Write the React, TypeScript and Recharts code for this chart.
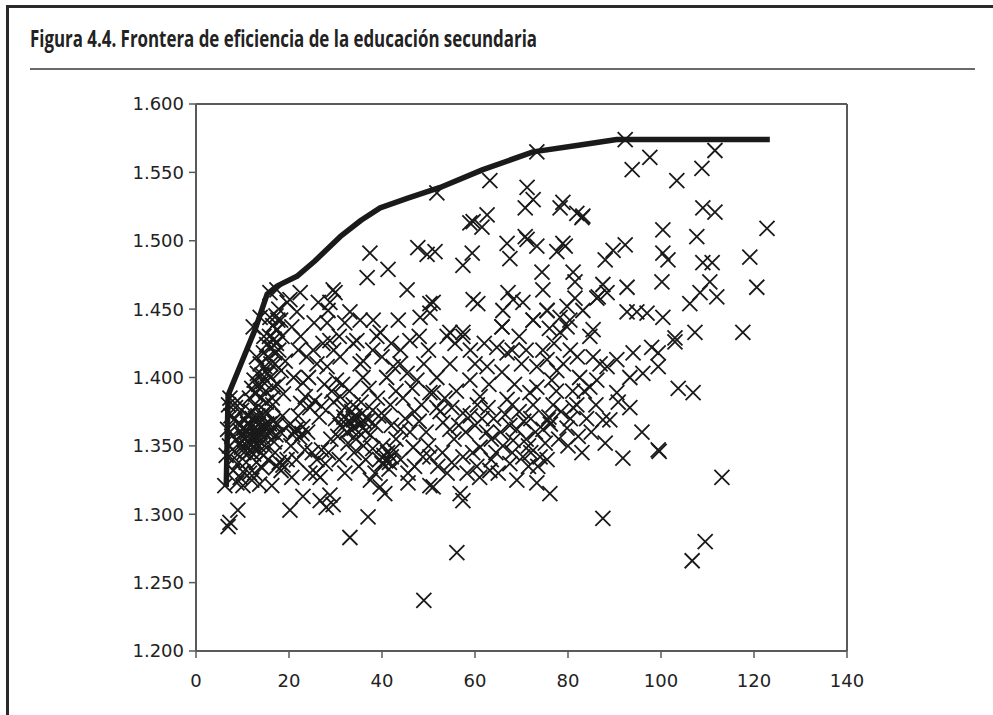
import React from 'react'
import {
  ScatterChart,
  Scatter,
  XAxis,
  YAxis,
  ReferenceLine
} from 'recharts'

// Tick values
const X_TICKS = [0, 20, 40, 60, 80, 100, 120, 140]
const Y_TICKS = [1.2, 1.25, 1.3, 1.35, 1.4, 1.45, 1.5, 1.55, 1.6]

// Efficiency frontier (gasto, resultado)
const frontier: Array<[number, number]> = [
  [6.5, 1.32], [6.9, 1.387], [12.7, 1.435], [15.3, 1.461], [17.5, 1.467],
  [21.7, 1.474], [25.5, 1.485], [31, 1.503], [35.5, 1.515], [39.6, 1.524],
  [45.4, 1.531], [52.5, 1.539], [61.7, 1.552], [72.5, 1.565], [82.6, 1.57],
  [90.5, 1.574], [123.4, 1.574]
]

// Observations, grouped by zone of the chart
const leftEdge: Array<[number, number]> = [
  [6.2, 1.321], [6.5, 1.343], [6.8, 1.362], [7.0, 1.38], [7.3, 1.385], [7.5, 1.372],
  [7.7, 1.357], [8, 1.332], [8.2, 1.346], [8.8, 1.323], [9.0, 1.366], [9.3, 1.352],
  [9.5, 1.327], [9.8, 1.376], [10.1, 1.321], [10.1, 1.331], [6.9, 1.291], [7.3, 1.294],
  [9.0, 1.303], [8.5, 1.378], [8.9, 1.383], [9.5, 1.361], [10.3, 1.345], [10.6, 1.369],
  [7.2, 1.35], [8.4, 1.37], [8.7, 1.355], [7.9, 1.34], [9.2, 1.338], [9.9, 1.358]
]

const leftCluster: Array<[number, number]> = [
  [10.5, 1.355], [11, 1.36], [11.3, 1.352], [11.6, 1.365], [12, 1.357], [12.2, 1.349],
  [12.5, 1.362], [12.8, 1.37], [13.1, 1.355], [13.4, 1.366], [13.8, 1.36], [14.2, 1.372],
  [14.6, 1.365], [15, 1.358], [15.4, 1.374], [15.8, 1.366], [16.2, 1.36], [11.8, 1.375],
  [12.4, 1.344], [13.6, 1.35], [10.8, 1.338], [11.5, 1.33], [12, 1.325], [13, 1.338],
  [14, 1.345], [14.8, 1.35], [9.8, 1.349], [10.4, 1.363], [11.2, 1.372], [13, 1.378],
  [16.8, 1.353], [17.5, 1.366], [18.2, 1.36], [17, 1.345], [18.6, 1.372], [16.5, 1.38],
  [15.5, 1.34], [14.2, 1.334], [12.6, 1.33], [13.7, 1.322],
  [10.9, 1.35], [11.4, 1.358], [11.9, 1.364], [12.3, 1.353], [12.7, 1.358], [13.2, 1.362],
  [13.5, 1.357], [14.1, 1.363], [14.4, 1.356], [15.2, 1.366], [11.1, 1.366], [12.1, 1.37],
  [13.3, 1.372], [14.9, 1.375], [15.6, 1.36], [16.6, 1.368], [17.2, 1.358], [11.7, 1.346],
  [12.9, 1.348], [14.5, 1.343]
]

const leftDiagonal: Array<[number, number]> = [
  [11.5, 1.385], [12, 1.392], [12.5, 1.398], [12.8, 1.388], [13.2, 1.403], [13.5, 1.395],
  [13.8, 1.41], [14.2, 1.402], [14.5, 1.418], [14.8, 1.408], [15.2, 1.424], [15.5, 1.415],
  [15.8, 1.43], [16.2, 1.422], [16.5, 1.438], [16.8, 1.428], [17.2, 1.445], [17.5, 1.435],
  [17.8, 1.45], [18.2, 1.442], [15, 1.39], [16, 1.4], [17, 1.41], [17.8, 1.42],
  [18.5, 1.43], [16.4, 1.385], [17.6, 1.395], [18.3, 1.405], [14, 1.385], [13, 1.415],
  [14.6, 1.43], [12.3, 1.437], [13.8, 1.444], [15.9, 1.444], [17.6, 1.442], [17.4, 1.435],
  [15.9, 1.462], [17.4, 1.464], [19.2, 1.412], [18.8, 1.388],
  [13.6, 1.392], [14.4, 1.397], [15.4, 1.403], [16.1, 1.41], [16.9, 1.418], [17.3, 1.425],
  [15.1, 1.382], [16.6, 1.393]
]

const band20to30: Array<[number, number]> = [
  [19.6, 1.455], [20.2, 1.457], [21.7, 1.448], [22.4, 1.462], [20.6, 1.437], [22, 1.42],
  [21, 1.4], [23, 1.396], [23.8, 1.415], [25.2, 1.42], [27.3, 1.425], [28.8, 1.427],
  [28.2, 1.408], [29.5, 1.464], [29.9, 1.462], [28.8, 1.455], [28.4, 1.449], [28.2, 1.44],
  [20, 1.365], [20.8, 1.358], [21.5, 1.362], [22.3, 1.356], [23, 1.364], [24, 1.36],
  [20.4, 1.35], [22, 1.372], [22.5, 1.381], [23.5, 1.386], [24.5, 1.378], [25.5, 1.383],
  [26.5, 1.371], [27, 1.379], [25, 1.345], [26, 1.34], [27, 1.347], [27.8, 1.337],
  [25.8, 1.33], [26.7, 1.327], [24.5, 1.33], [23, 1.313], [26.7, 1.31], [28.8, 1.314],
  [29.5, 1.307], [28, 1.305], [20.2, 1.303], [20.6, 1.327], [17.4, 1.335], [18.7, 1.336],
  [16.3, 1.321], [19.6, 1.34], [21.6, 1.34], [23.4, 1.347], [29.2, 1.39], [29.6, 1.382],
  [30.2, 1.398], [31, 1.386], [30, 1.37], [29, 1.355], [28.5, 1.345], [24.2, 1.4],
  [26, 1.41], [27.6, 1.395], [22.5, 1.43], [25.4, 1.44], [26.3, 1.455],
  [21.2, 1.36], [22.8, 1.359], [17.9, 1.338], [18.3, 1.332]
]

const band30to52: Array<[number, number]> = [
  [31, 1.365], [31.8, 1.371], [32.4, 1.36], [33, 1.368], [33.5, 1.375], [34, 1.363],
  [34.6, 1.37], [35.2, 1.366], [35.8, 1.374], [36.4, 1.361], [37, 1.369], [32, 1.378],
  [33.8, 1.38], [35.5, 1.382], [30.5, 1.357], [32.7, 1.352], [34.4, 1.355], [36, 1.35],
  [37.5, 1.358], [38, 1.376], [38.6, 1.365], [39.3, 1.372],
  [32.2, 1.366], [33.3, 1.362], [34.2, 1.372], [35, 1.36], [36.1, 1.368], [33.9, 1.369],
  [33.1, 1.448], [35.3, 1.442], [38.1, 1.442], [39.6, 1.433], [33.8, 1.425], [34.6, 1.427],
  [38.9, 1.43], [31, 1.415], [35.3, 1.41], [35.9, 1.4], [41, 1.4], [42.4, 1.408],
  [43.9, 1.41], [45.4, 1.403], [47.5, 1.398], [46, 1.427], [51, 1.389], [51.8, 1.378],
  [39.5, 1.34], [40, 1.337], [40.4, 1.343], [40.8, 1.339], [41.2, 1.345], [41.6, 1.338],
  [42, 1.342], [42.5, 1.347], [40.2, 1.35], [41.5, 1.333], [39.6, 1.32], [40.6, 1.315],
  [38.5, 1.33], [37.5, 1.325], [37, 1.298], [33.1, 1.283], [45.6, 1.323], [45.6, 1.33],
  [48.8, 1.342], [46.7, 1.349], [50.3, 1.321], [43, 1.355], [44, 1.362], [45, 1.37],
  [46, 1.36], [47, 1.375], [48, 1.368], [44.5, 1.385], [43, 1.39], [46.5, 1.392],
  [48.5, 1.38], [49.5, 1.36], [50, 1.35], [42, 1.365], [40.5, 1.372], [41.8, 1.38],
  [39, 1.385], [37.2, 1.392], [36, 1.412], [38, 1.42], [40, 1.415], [42, 1.425],
  [44, 1.42], [49, 1.41], [50, 1.42], [48, 1.43], [41.3, 1.479], [37.4, 1.491],
  [36.8, 1.473], [45.4, 1.464], [47.7, 1.495], [49.7, 1.49], [51.4, 1.492], [51, 1.455],
  [48.2, 1.444], [50.3, 1.447], [43.5, 1.442], [30.8, 1.43], [32, 1.44], [29.6, 1.42],
  [31.5, 1.395], [33, 1.39], [34, 1.345], [35, 1.335], [36.5, 1.34], [32, 1.33],
  [30.8, 1.34], [44, 1.34], [47, 1.335], [38, 1.348], [49, 1.237]
]

const band52to80: Array<[number, number]> = [
  [51.8, 1.4], [50.3, 1.389], [54.6, 1.41], [53.1, 1.367], [54.6, 1.362], [57.4, 1.374],
  [55.7, 1.425], [54, 1.43], [57.4, 1.43], [54.6, 1.433], [57.4, 1.433], [51, 1.32],
  [50.3, 1.342], [61.1, 1.349], [57.4, 1.342], [58.3, 1.33], [56.8, 1.315], [57.4, 1.31],
  [56.1, 1.272], [60.4, 1.335], [63.2, 1.332], [67.5, 1.337], [70.3, 1.342], [68.2, 1.354],
  [69, 1.362], [66.9, 1.384], [62.8, 1.378], [61.1, 1.386], [58.9, 1.398], [62.6, 1.408],
  [65.8, 1.404], [64.7, 1.422], [66.9, 1.418], [65.8, 1.437], [73.3, 1.408], [76.5, 1.398],
  [77.6, 1.405], [75.5, 1.413], [74.6, 1.42], [73.3, 1.393], [71.8, 1.389], [73.3, 1.323],
  [76.1, 1.315], [73.5, 1.335], [74, 1.342], [75.5, 1.34], [75.1, 1.352], [74.6, 1.362],
  [75.7, 1.369], [75.9, 1.371], [76.2, 1.366], [79.8, 1.363], [82.2, 1.357], [78.3, 1.433],
  [84.7, 1.43], [52.5, 1.375], [53.5, 1.385], [55, 1.378], [56, 1.39], [55.5, 1.355],
  [56.5, 1.365], [58, 1.36], [59, 1.372], [60, 1.365], [60.5, 1.38], [61.5, 1.37],
  [62.5, 1.36], [63.5, 1.355], [64, 1.37], [64.5, 1.345], [65.5, 1.36], [66, 1.35],
  [66.5, 1.373], [67.5, 1.365], [68, 1.38], [68.5, 1.395], [69.5, 1.375], [70.5, 1.368],
  [71, 1.355], [71.5, 1.35], [72, 1.37], [72.5, 1.38], [73, 1.36], [70, 1.41],
  [68, 1.42], [69.5, 1.43], [71, 1.42], [63, 1.395], [60, 1.41], [59, 1.42],
  [62, 1.425], [53, 1.345], [54, 1.33], [55, 1.338], [52, 1.335], [59.5, 1.345],
  [61, 1.327], [63.5, 1.34], [65, 1.33], [68, 1.345], [69, 1.325], [71.5, 1.335],
  [72, 1.345], [76.8, 1.38], [77.5, 1.39], [78.5, 1.375], [78, 1.355], [80.5, 1.37],
  [79, 1.41], [77, 1.425], [76, 1.436], [72.5, 1.442], [75.5, 1.449], [74.4, 1.477],
  [74.6, 1.464]
]

const rightLower: Array<[number, number]> = [
  [81.9, 1.38], [81.1, 1.378], [84.7, 1.393], [86.2, 1.398], [85.4, 1.415], [86.9, 1.41],
  [88.4, 1.408], [90.5, 1.413], [90.5, 1.389], [90.8, 1.382], [93.3, 1.378], [93.3, 1.4],
  [94, 1.418], [96.1, 1.403], [98, 1.422], [99.4, 1.418], [99.4, 1.408], [87.5, 1.369],
  [89, 1.369], [95.9, 1.36], [88, 1.352], [91.8, 1.341], [99.4, 1.347], [99.6, 1.346],
  [113.1, 1.327], [87.5, 1.297], [109.5, 1.28], [106.7, 1.266], [103, 1.426], [103.7, 1.392],
  [106.9, 1.389], [117.6, 1.433], [107.3, 1.433], [103, 1.429], [85.4, 1.435], [79.8, 1.437],
  [83.5, 1.39], [82.5, 1.4], [84, 1.37], [85, 1.36], [80, 1.35], [83, 1.345],
  [81, 1.39], [80.5, 1.42], [82, 1.415], [86, 1.38]
]

const upperBand: Array<[number, number]> = [
  [51.8, 1.535], [63.2, 1.544], [73.3, 1.565], [71.2, 1.539], [72.5, 1.53], [70.8, 1.524],
  [78.9, 1.528], [78.3, 1.524], [81.9, 1.52], [83, 1.517], [83.2, 1.518], [59.6, 1.514],
  [62.6, 1.519], [61.5, 1.51], [58.9, 1.513], [92.3, 1.574], [97.6, 1.561], [93.8, 1.552],
  [103.4, 1.544], [108.8, 1.553], [111.6, 1.566], [109, 1.524], [111.6, 1.521], [122.8, 1.509],
  [100.4, 1.508], [107.7, 1.503], [100.4, 1.491], [101.5, 1.486], [109, 1.484], [111, 1.484],
  [119.1, 1.488], [120.6, 1.466], [110.5, 1.47], [108.4, 1.462], [112, 1.459], [106.2, 1.454],
  [100.2, 1.47], [92.7, 1.466], [92.3, 1.497], [89.7, 1.493], [88, 1.486], [87.5, 1.468],
  [88.4, 1.462], [86.5, 1.459], [78.9, 1.498], [77.6, 1.492], [79.4, 1.496], [70.8, 1.503],
  [71.2, 1.501], [73.3, 1.496], [66.9, 1.498], [67.5, 1.487], [59.4, 1.491], [57.4, 1.482],
  [81.1, 1.477], [81.5, 1.47], [81.5, 1.458], [92.7, 1.448], [94.8, 1.448], [97, 1.447],
  [100.4, 1.444], [67.1, 1.462], [68.2, 1.457], [70.3, 1.455], [66, 1.449], [59.6, 1.457],
  [60.6, 1.454], [50.3, 1.454], [72.5, 1.442], [79.8, 1.452], [78.3, 1.444], [80.4, 1.442],
  [83.2, 1.449], [86.2, 1.458], [75.5, 1.449], [65.8, 1.437]
]

const toPoints = (rows: Array<[number, number]>) => rows.map(([x, y]) => ({ x, y }))

const observations = toPoints([
  ...leftEdge, ...leftCluster, ...leftDiagonal, ...band20to30,
  ...band30to52, ...band52to80, ...rightLower, ...upperBand
])
const frontierPoints = toPoints(frontier)

const INK = '#1a1a1a'
const AXIS = '#5a5a5a'

const Cross = (props: any) => {
  const { cx, cy } = props
  if (cx == null || cy == null) return <g />
  const s = 7.5
  return (
    <path
      d={`M${cx - s},${cy - s}L${cx + s},${cy + s}M${cx + s},${cy - s}L${cx - s},${cy + s}`}
      stroke={INK}
      strokeWidth={1.8}
      fill="none"
    />
  )
}

const NoDot = () => <g />

const tickStyle = { fill: '#222', fontSize: 18, fontFamily: 'DejaVu Sans' }

export default function App() {
  return (
    <div style={{ position: 'absolute', left: 0, top: 0, width: 993, height: 715, background: '#fff', overflow: 'hidden' }}>
      {/* frame + title */}
      <svg width={993} height={715} style={{ position: 'absolute', left: 0, top: 0 }}>
        <rect x={6} y={5} width={987} height={3} fill="#2a2a2a" />
        <rect x={6} y={5} width={3} height={710} fill="#2a2a2a" />
        <text
          x={30}
          y={47}
          textLength={507}
          lengthAdjust="spacingAndGlyphs"
          fontFamily="Open Sans"
          fontWeight={700}
          fontSize={23}
          fill="#222"
        >
          Figura 4.4. Frontera de eficiencia de la educación secundaria
        </text>
        <rect x={30} y={68} width={945} height={2} fill="#6a6a6a" />
      </svg>

      <div style={{ position: 'absolute', left: 0, top: 0 }}>
        <ScatterChart
          width={993}
          height={715}
          margin={{ top: 104, right: 146, bottom: 34, left: 136 }}
        >
          <XAxis
            type="number"
            dataKey="x"
            domain={[0, 140]}
            ticks={X_TICKS}
            interval={0}
            axisLine={{ stroke: AXIS, strokeWidth: 2 }}
            tickLine={{ stroke: AXIS, strokeWidth: 1.5 }}
            tickSize={7}
            tickMargin={16}
            height={30}
            tick={tickStyle}
          />
          <YAxis
            type="number"
            dataKey="y"
            domain={[1.2, 1.6]}
            ticks={Y_TICKS}
            interval={0}
            tickFormatter={(v: number) => v.toFixed(3)}
            axisLine={{ stroke: AXIS, strokeWidth: 2 }}
            tickLine={{ stroke: AXIS, strokeWidth: 1.5 }}
            tickSize={7}
            tickMargin={5}
            width={60}
            tick={tickStyle}
          />
          <ReferenceLine y={1.6} stroke={AXIS} strokeWidth={2} />
          <ReferenceLine x={140} stroke={AXIS} strokeWidth={2} />
          <Scatter data={observations} shape={Cross} isAnimationActive={false} />
          <Scatter
            data={frontierPoints}
            shape={NoDot}
            line={{ stroke: INK, strokeWidth: 5.5, strokeLinejoin: 'round', strokeLinecap: 'butt' }}
            lineType="joint"
            isAnimationActive={false}
          />
        </ScatterChart>
      </div>
    </div>
  )
}
